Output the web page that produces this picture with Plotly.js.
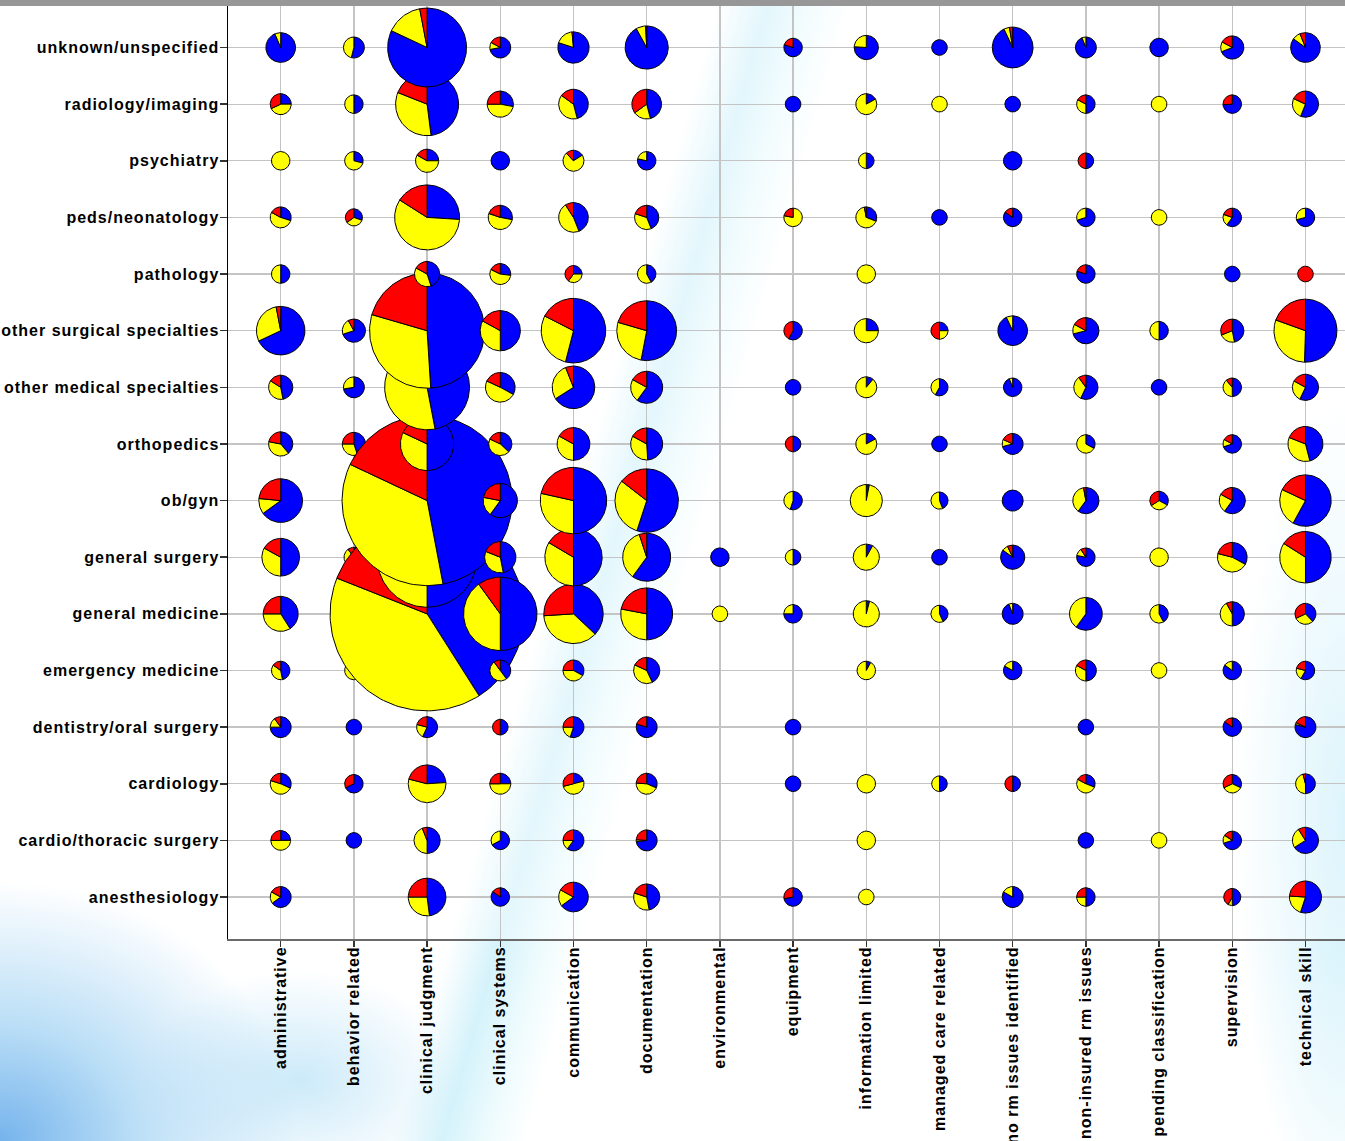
<!DOCTYPE html>
<html>
<head>
<meta charset="utf-8">
<script src="https://cdn.plot.ly/plotly-3.0.1.min.js"></script>
<style>
html,body{margin:0;padding:0;width:1345px;height:1141px;overflow:hidden;background:#fff;}
#bg{position:absolute;left:0;top:0;width:1345px;height:1141px;
background:
 radial-gradient(ellipse 300px 260px at 0px 1141px, rgba(110,175,235,0.95) 0%, rgba(150,205,242,0.65) 45%, rgba(200,235,250,0) 100%),
 radial-gradient(ellipse 160px 110px at 300px 1080px, rgba(170,220,245,0.6) 0%, rgba(255,255,255,0) 100%),
 linear-gradient(106deg, rgba(255,255,255,0) 43%, rgba(205,240,250,0.85) 46%, rgba(225,248,252,0.6) 48.5%, rgba(255,255,255,0) 51%),
 radial-gradient(ellipse 110px 420px at 1345px 820px, rgba(200,238,250,0.95) 0%, rgba(255,255,255,0) 100%),
 #ffffff;}
#topbar{position:absolute;left:0;top:0;width:1345px;height:6px;background:#979797;z-index:5;}
#chart{position:absolute;left:0;top:0;width:1345px;height:1141px;}
#chart .xtick text, #chart .ytick text{letter-spacing:1px;}
</style>
</head>
<body>
<div id="bg"></div>
<div id="chart"></div>
<div id="topbar"></div>
<script>
// Rows (bottom to top) and columns
const specialties = ["anesthesiology","cardio/thoracic surgery","cardiology","dentistry/oral surgery","emergency medicine","general medicine","general surgery","ob/gyn","orthopedics","other medical specialties","other surgical specialties","pathology","peds/neonatology","psychiatry","radiology/imaging","unknown/unspecified"];
const causes = ["administrative","behavior related","clinical judgment","clinical systems","communication","documentation","environmental","equipment","information limited","managed care related","no rm issues identified","non-insured rm issues","pending classification","supervision","technical skill"];

// Each entry per specialty (same order as specialties): [cases, blue %, yellow %, red %] or null
const administrative = [[9,65,18,17],[8,25,50,25],[9,32,48,20],[9,75,15,10],[7,47,38,15],[25,41,34,25],[29,50,33,17],[39,65,11.5,23.5],[12,39,39,22],[12,47,37,16],[48,68,29,3],[7,50,50,0],[9,30,53,17],[7,0,100,0],[9,25,43,32],[18,93.6,6.4,0]];
const behaviorRelated = [null,[5,100,0,0],[7,68,0,32],[5,100,0,0],[7,0,100,0],[7,50,30,20],[8,50,40,10],[8,50,30,20],[11,45,30,25],[9,72,28,0],[11,70,22,8],null,[6,30,35,35],[7,29,71,0],[7,50,50,0],[9,54,46,0]];
const clinicalJudgment = [[29,48,27,25],[14,50,44,6],[29,24,55,21],[9,57,22,21],[12,45,40,15],[768,41,40,19],[204,50,32,18],[590,47,35,18],[58,50,32,18],[147,47,46,7],[270,49,30.5,20.5],[13,45,38,17],[86,26,58,16],[11,25,58,17],[81,48,33,19],[127,82,15,3]];
const clinicalSystems = [[7,85,0,15],[7,67,33,0],[9,25,50,25],[5,50,0,50],[9,40,50,10],[110,50,40,10],[20,47,34,19],[24,60,18,22],[11,37,45,18],[18,33,49,18],[33,50,33,17],[9,27,55,18],[12,28,52,20],[7,100,0,0],[14,28,47,25],[9,72,11,17]];
const communication = [[18,65,18,17],[9,60,15,25],[9,21,50,29],[9,55,20,25],[9,33,42,25],[72,37,37,26],[67,50,33.5,16.5],[90,50,28.5,21.5],[22,50,33,17],[37,66,28,6],[85,54,28.5,17.5],[6,25,35,40],[18,44,47,9],[9,16,72,12],[18,46,39,15],[20,80,18.5,1.5]];
const documentation = [[14,47,33,20],[9,73,3,24],[9,31,45,24],[9,80,0,20],[14,43,39,18],[55,50,28,22],[47,60,35,5],[82,55,30.5,14.5],[21,49,34,17],[21,60,23,17],[73,53,26.5,20.5],[7,42,58,0],[12,44,36,20],[7,78,22,0],[18,46,19,35],[38,92,7.2,0.8]];
const environmental = [null,null,null,null,null,[5,0,100,0],[7,100,0,0],null,null,null,null,null,null,null,null,null];
const equipment = [[7,72,0,28],null,[5,100,0,0],[5,100,0,0],null,[7,75,25,0],[5,50,50,0],[7,55,45,0],[5,50,0,50],[5,100,0,0],[7,58,0,42],null,[7,0,78,22],null,[5,100,0,0],[7,80,0,20]];
const informationLimited = [[5,0,100,0],[7,0,100,0],[7,0,100,0],null,[7,8,92,0],[14,4,96,0],[14,8,92,0],[21,3,97,0],[9,17,83,0],[9,11,89,0],[12,25,75,0],[7,0,100,0],[9,31,66,3],[5,50,50,0],[9,17,83,0],[12,76,24,0]];
const managedCare = [null,null,[5,50,50,0],null,null,[6,43,57,0],[5,100,0,0],[6,44,56,0],[5,100,0,0],[6,58,42,0],[6,25,25,50],null,[5,100,0,0],null,[5,0,100,0],[5,100,0,0]];
const noRmIssues = [[9,83,17,0],null,[5,50,0,50],null,[7,83,17,0],[9,94,6,0],[12,85,8,7],[9,100,0,0],[9,71,11,18],[7,94,6,0],[18,93,7,0],null,[7,85,0,15],[7,100,0,0],[5,100,0,0],[34,93,4.5,2.5]];
const nonInsured = [[7,50,25,25],[5,100,0,0],[7,31,52,17],[5,100,0,0],[9,50,33,17],[22,60,40,0],[7,78,13,9],[14,60,37,3],[7,33,67,0],[12,57,33,10],[14,71,12,17],[7,80,0,20],[7,70,30,0],[5,50,0,50],[7,50,33,17],[9,94,6,0]];
const pendingClassification = [null,[5,0,100,0],null,null,[5,0,100,0],[7,42,58,0],[7,0,100,0],[7,33,33,34],null,[5,100,0,0],[7,50,50,0],null,[5,0,100,0],null,[5,0,100,0],[7,100,0,0]];
const supervision = [[6,50,8,42],[7,70,14,16],[7,32,36,32],[7,85,0,15],[7,85,15,0],[12,50,42,8],[18,33,46,21],[14,60,23,17],[7,70,13,17],[7,50,39,11],[11,47,22,31],[5,100,0,0],[7,60,20,20],null,[7,74,0,26],[11,69,14,17]];
const technicalSkill = [[21,55,21,24],[14,66,25,9],[8,50,46,4],[9,79,3,18],[7,58,21,21],[9,38,30,32],[54,50,34,16],[54,58,24,18],[25,46,35,19],[14,57,26,17],[81,50.5,30,19.5],[5,0,0,100],[7,71,29,0],null,[14,56,26,18],[18,85,9,6]];

const columns = [administrative, behaviorRelated, clinicalJudgment, clinicalSystems, communication, documentation, environmental, equipment, informationLimited, managedCare, noRmIssues, nonInsured, pendingClassification, supervision, technicalSkill];

// Layout geometry
const W = 1345, H = 1141, ML = 228, MR = 0, MT = 6, MB = 202;
const XR = [-0.72, 14.54], YR = [-0.741, 15.733];
const pxPerX = (W - ML - MR) / (XR[1] - XR[0]);
const pxPerY = (H - MT - MB) / (YR[1] - YR[0]);
const RADIUS_PER_SQRT_CASE = 3.5; // px
const sliceColors = ['#0000ff', '#ffff00', '#ff0000']; // blue, yellow, red

const traces = [];
columns.forEach((col, ci) => {
  col.forEach((cell, ri) => {
    if (!cell) return;
    const n = cell[0];
    const shares = [cell[1], cell[2], cell[3]];
    const tot = shares[0] + shares[1] + shares[2];
    const rpx = RADIUS_PER_SQRT_CASE * Math.sqrt(n);
    const rx = rpx / pxPerX, ry = rpx / pxPerY;
    let a = 0;
    shares.forEach((v, k) => {
      if (v <= 0) return;
      const a0 = a, a1 = a + v / tot * 360;
      a = a1;
      const full = v / tot > 0.9999;
      const xs = [], ys = [];
      if (!full) { xs.push(ci); ys.push(ri); }
      const steps = Math.max(10, Math.ceil((a1 - a0) / 2));
      for (let s = 0; s <= steps; s++) {
        const t = (a0 + (a1 - a0) * s / steps) * Math.PI / 180;
        xs.push(ci + rx * Math.sin(t));
        ys.push(ri + ry * Math.cos(t));
      }
      if (!full) { xs.push(ci); ys.push(ri); }
      traces.push({
        type: 'scatter', mode: 'lines', x: xs, y: ys,
        fill: 'toself', fillcolor: sliceColors[k],
        line: { color: '#000000', width: 1 },
        hoverinfo: 'skip', showlegend: false
      });
    });
  });
});

const tickFont = { family: 'Liberation Sans, Arial, sans-serif', size: 16, color: '#000000', weight: 700 };

const layout = {
  width: W, height: H,
  margin: { l: ML, r: MR, t: MT, b: MB, pad: 0 },
  paper_bgcolor: 'rgba(0,0,0,0)',
  plot_bgcolor: 'rgba(255,255,255,0.35)',
  showlegend: false,
  xaxis: {
    range: XR, tickmode: 'array',
    tickvals: causes.map((_, i) => i), ticktext: causes,
    tickangle: -90, tickfont: tickFont, ticklabelstandoff: -7,
    showgrid: true, gridcolor: '#c4c4c4', gridwidth: 1.3,
    zeroline: false, showline: true, linecolor: '#6a6a6a', linewidth: 2,
    ticks: 'outside', ticklen: 6, tickcolor: '#333333', tickwidth: 1.5,
    fixedrange: true
  },
  yaxis: {
    range: YR, tickmode: 'array',
    tickvals: specialties.map((_, i) => i), ticktext: specialties,
    tickfont: tickFont, ticklabelstandoff: -3,
    showgrid: true, gridcolor: '#c4c4c4', gridwidth: 1.3,
    zeroline: false, showline: true, linecolor: '#000000', linewidth: 1.5,
    ticks: 'outside', ticklen: 7, tickcolor: '#333333', tickwidth: 1.5,
    fixedrange: true
  }
};

Plotly.newPlot('chart', traces, layout, { displayModeBar: false, staticPlot: true });
</script>
</body>
</html>
